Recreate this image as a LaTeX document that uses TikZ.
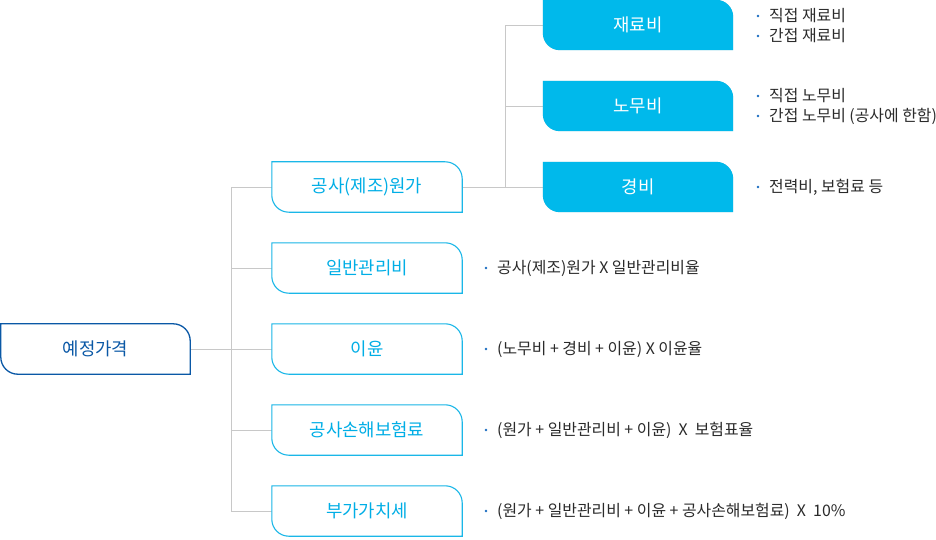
\documentclass[tikz,border=0pt]{standalone}
\usepackage{fontspec}
\setmainfont{Noto Sans CJK KR}
\usetikzlibrary{backgrounds}
\definecolor{rootblue}{HTML}{0A58A6}
\definecolor{cyanline}{HTML}{1AB7E8}
\definecolor{cyantext}{HTML}{00AEE6}
\definecolor{cyanfill}{HTML}{00B9EB}
\definecolor{connline}{HTML}{C8C8C8}
\definecolor{bodytext}{HTML}{2A2A2A}
\definecolor{dotblue}{HTML}{1A6CC0}
\definecolor{shadowgray}{HTML}{D6D6D6}
\newcommand\leafshape[2]{%
  \path[#2] (#1.north west) -- ([xshift=-17pt]#1.north east)
    arc[start angle=90,end angle=0,radius=17pt] -- (#1.south east)
    -- ([xshift=17pt]#1.south west)
    arc[start angle=270,end angle=180,radius=17pt] -- cycle;}
\newcommand\leafbox[2]{%
  \leafshape{#1}{fill=shadowgray,xshift=2.5pt,yshift=-2.5pt}%
  \leafshape{#1}{#2}}
\begin{document}
\begin{tikzpicture}[x=1pt,y=1pt,
  boxnode/.style={minimum width=190pt,minimum height=50pt,inner sep=0pt,font=\fontsize{17.8}{20}\selectfont},
  rootnode/.style={boxnode,minimum width=189pt,text=rootblue},
  midnode/.style={boxnode,text=cyantext},
  subnode/.style={boxnode,text=white},
  conn/.style={draw=connline,line width=0.9pt},
  note/.style={anchor=west,inner sep=0pt,text=bodytext,font=\fontsize{15.9}{18}\selectfont},
  dot/.style={circle,fill=dotblue,inner sep=0pt,minimum size=2.6pt}]
\useasboundingbox (0,0) rectangle (936,-540);
% nodes
\node[rootnode] (root) at (95.5,-349) {예정가격};
\node[midnode] (a1) at (367,-187) {공사(제조)원가};
\node[midnode] (a2) at (367,-268) {일반관리비};
\node[midnode] (a3) at (367,-349) {이윤};
\node[midnode] (a4) at (367,-430) {공사손해보험료};
\node[midnode] (a5) at (367,-511) {부가가치세};
\node[subnode] (b1) at (638,-25) {재료비};
\node[subnode] (b2) at (638,-106) {노무비};
\node[subnode] (b3) at (638,-187) {경비};
\coordinate (j1) at (231,-349);
\coordinate (j2) at (505,-187);
% notes
\node[dot] (d11) at (758,-16) {};
\node[note] (n11) at (769,-16) {직접 재료비};
\node[dot] (d12) at (758,-36) {};
\node[note] (n12) at (769,-36) {간접 재료비};
\node[dot] (d21) at (758,-96) {};
\node[note] (n21) at (769,-96) {직접 노무비};
\node[dot] (d22) at (758,-116) {};
\node[note] (n22) at (769,-116) {간접 노무비 (공사에 한함)};
\node[dot] (d31) at (758,-187) {};
\node[note] (n31) at (769,-187) {전력비, 보험료 등};
\node[dot] (e2) at (486,-268) {};
\node[note] (m2) at (497,-268) {공사(제조)원가 X 일반관리비율};
\node[dot] (e3) at (486,-349) {};
\node[note] (m3) at (497,-349) {(노무비 + 경비 + 이윤) X 이윤율};
\node[dot] (e4) at (486,-430) {};
\node[note] (m4) at (497,-430) {(원가 + 일반관리비 + 이윤)\ \ X\ \ 보험표율};
\node[dot] (e5) at (486,-511) {};
\node[note] (m5) at (497,-511) {(원가 + 일반관리비 + 이윤 + 공사손해보험료)\ \ X\ \ 10\%};
\begin{scope}[on background layer]
  \draw[conn] (root.east) -- (j1);
  \draw[conn] (j1) |- (a1.west);
  \draw[conn] (j1) |- (a2.west);
  \draw[conn] (j1) -- (a3.west);
  \draw[conn] (j1) |- (a4.west);
  \draw[conn] (j1) |- (a5.west);
  \draw[conn] (a1.east) -- (j2);
  \draw[conn] (j2) |- (b1.west);
  \draw[conn] (j2) |- (b2.west);
  \draw[conn] (j2) -- (b3.west);
  \leafbox{root}{fill=white,draw=rootblue,line width=1.3pt}
  \leafbox{a1}{fill=white,draw=cyanline,line width=1.1pt}
  \leafbox{a2}{fill=white,draw=cyanline,line width=1.1pt}
  \leafbox{a3}{fill=white,draw=cyanline,line width=1.1pt}
  \leafbox{a4}{fill=white,draw=cyanline,line width=1.1pt}
  \leafbox{a5}{fill=white,draw=cyanline,line width=1.1pt}
  \leafbox{b1}{fill=cyanfill}
  \leafbox{b2}{fill=cyanfill}
  \leafbox{b3}{fill=cyanfill}
\end{scope}
\end{tikzpicture}
\end{document}
